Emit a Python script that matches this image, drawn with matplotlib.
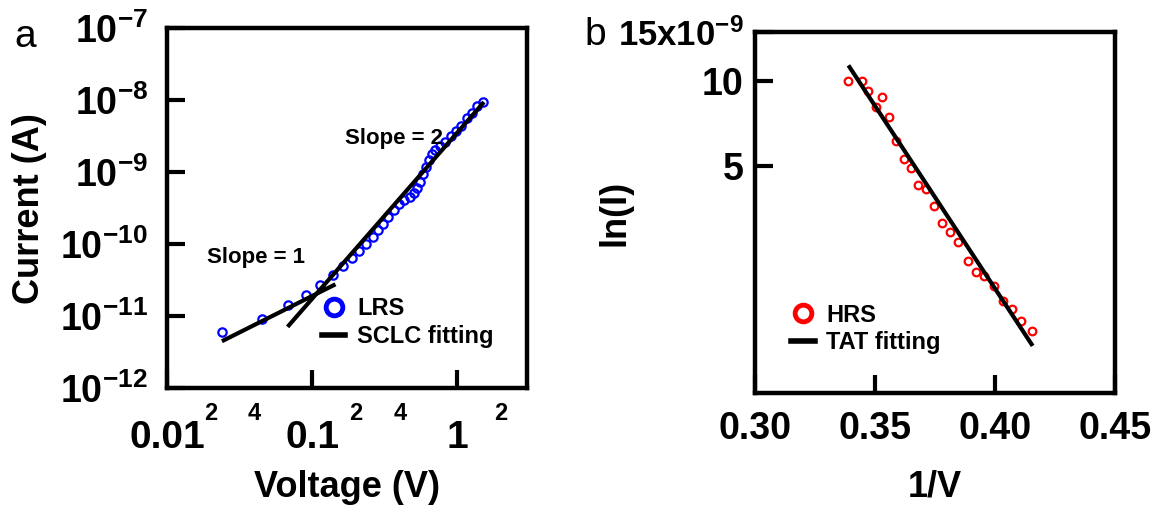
import matplotlib
matplotlib.use('Agg')
import matplotlib.pyplot as plt
from matplotlib.ticker import NullLocator
from matplotlib.lines import Line2D

plt.rcParams['font.family'] = ['Liberation Sans', 'DejaVu Sans']
plt.rcParams['font.weight'] = 'bold'
plt.rcParams['axes.labelweight'] = 'bold'
plt.rcParams['mathtext.fontset'] = 'custom'
plt.rcParams['mathtext.rm'] = 'Liberation Sans:bold'
plt.rcParams['mathtext.bf'] = 'Liberation Sans:bold'
plt.rcParams['mathtext.default'] = 'rm'

# Panel a: LRS I-V (log-log)
lrs_v = [0.024, 0.045, 0.068, 0.090, 0.113, 0.138, 0.163, 0.188, 0.211, 0.234,
         0.26, 0.282, 0.308, 0.334, 0.364, 0.396, 0.43, 0.469, 0.50, 0.53,
         0.556, 0.582, 0.605, 0.633, 0.667, 0.705, 0.759, 0.826, 0.90, 0.98,
         1.065, 1.16, 1.26, 1.37, 1.49]
lrs_i = [6.1e-12, 9.1e-12, 1.42e-11, 1.96e-11, 2.7e-11, 3.7e-11, 5.0e-11, 6.5e-11, 8.1e-11, 1.02e-10,
         1.26e-10, 1.56e-10, 1.94e-10, 2.4e-10, 2.97e-10, 3.6e-10, 4.1e-10, 4.5e-10, 5.2e-10, 6.0e-10,
         7.3e-10, 9.4e-10, 1.17e-9, 1.47e-9, 1.78e-9, 2.07e-9, 2.3e-9, 2.6e-9, 3.16e-9, 3.7e-9,
         4.45e-9, 5.6e-9, 6.7e-9, 8.3e-9, 9.5e-9]
ohm_fit_v = [0.0245, 0.14]
ohm_fit_i = [4.64e-12, 2.7e-11]
sclc_fit_v = [0.0689, 1.49]
sclc_fit_i = [7.5e-12, 9.0e-9]

a_xmajor = [0.01, 0.1, 1]
a_xmajor_labels = ['0.01', '0.1', '1']
a_xminor = [0.02, 0.04, 0.2, 0.4, 2]
a_xminor_labels = ['2', '4', '2', '4', '2']
a_yticks = [1e-12, 1e-11, 1e-10, 1e-9, 1e-8, 1e-7]
a_ylabels = [r'$10^{-12}$', r'$10^{-11}$', r'$10^{-10}$', r'$10^{-9}$', r'$10^{-8}$', r'$10^{-7}$']

# Panel b: HRS TAT plot
hrs_x = [0.3387, 0.3444, 0.3472, 0.3529, 0.3503, 0.3560, 0.3588, 0.3619, 0.3649, 0.3680,
         0.3711, 0.3747, 0.3781, 0.3812, 0.3846, 0.3886, 0.3920, 0.3954, 0.3997, 0.4033,
         0.4070, 0.4110, 0.4152]
hrs_y = [10.0e-9, 10.0e-9, 9.25e-9, 8.81e-9, 8.12e-9, 7.45e-9, 6.12e-9, 5.31e-9, 4.93e-9, 4.28e-9,
         4.14e-9, 3.61e-9, 3.15e-9, 2.92e-9, 2.69e-9, 2.30e-9, 2.11e-9, 2.03e-9, 1.87e-9, 1.66e-9,
         1.56e-9, 1.41e-9, 1.30e-9]
tat_fit_x = [0.3394, 0.4152]
tat_fit_y = [11.23e-9, 1.166e-9]

b_xticks = [0.30, 0.35, 0.40, 0.45]
b_xlabels = ['0.30', '0.35', '0.40', '0.45']
b_yticks = [5e-9, 10e-9, 15e-9]
b_ylabels = ['5', '10', r'$15x10^{-9}$']

fig = plt.figure(figsize=(11.66, 5.14), dpi=100)
ax1 = fig.add_axes([0.1435, 0.2446, 0.3082, 0.7003])
ax2 = fig.add_axes([0.6475, 0.2348, 0.3088, 0.7035])

# ---- panel a ----
ax1.set_xscale('log')
ax1.set_yscale('log')
ax1.plot(lrs_v, lrs_i, 'o', mfc='none', mec='blue', ms=6, mew=1.6)
ax1.plot(ohm_fit_v, ohm_fit_i, '-', color='black', lw=3)
ax1.plot(sclc_fit_v, sclc_fit_i, '-', color='black', lw=3)
ax1.set_xlim(0.01, 3)
ax1.set_ylim(1e-12, 1e-7)

ax1.set_xticks(a_xmajor, a_xmajor_labels)
ax1.set_xticks(a_xminor, a_xminor_labels, minor=True)
ax1.set_yticks(a_yticks, a_ylabels)
ax1.yaxis.set_minor_locator(NullLocator())
ax1.tick_params(axis='x', which='major', direction='in', length=13, width=3, pad=23, labelsize=28)
ax1.tick_params(axis='x', which='minor', direction='in', length=0, pad=10, labelsize=17)
ax1.tick_params(axis='y', which='major', direction='in', length=13, width=3, pad=14, labelsize=27)

ax1.text(0.247, 0.363, 'Slope = 1', transform=ax1.transAxes, ha='center', va='center', fontsize=16)
ax1.text(0.63, 0.694, 'Slope = 2', transform=ax1.transAxes, ha='center', va='center', fontsize=16)

handles_a = [Line2D([], [], marker='o', ls='none', mfc='none', mec='blue', ms=12, mew=3.5),
             Line2D([], [], color='black', lw=4)]
ax1.legend(handles_a, ['LRS', 'SCLC fitting'], loc='center left', bbox_to_anchor=(0.43, 0.183),
           frameon=False, fontsize=17, handlelength=1.0, handletextpad=0.5, labelspacing=0.2,
           borderpad=0, borderaxespad=0)

ax1.set_xlabel('Voltage (V)', fontsize=26)
ax1.xaxis.set_label_coords(0.5, -0.277)
ax1.xaxis.label.set_va('center')
ax1.set_ylabel('Current (A)', fontsize=26)
ax1.yaxis.set_label_coords(-0.383, 0.5)
ax1.yaxis.label.set_va('center')

# ---- panel b ----
ax2.set_yscale('log')
ax2.plot(hrs_x, hrs_y, 'o', mfc='none', mec='red', ms=5.5, mew=1.6)
ax2.plot(tat_fit_x, tat_fit_y, '-', color='black', lw=3)
ax2.set_xlim(0.30, 0.45)
ax2.set_ylim(0.78e-9, 15e-9)

ax2.set_xticks(b_xticks, b_xlabels)
ax2.set_yticks(b_yticks, b_ylabels)
ax2.yaxis.set_minor_locator(NullLocator())
ax2.tick_params(axis='x', direction='in', length=13, width=3, pad=13, labelsize=27)
ax2.tick_params(axis='y', direction='in', length=13, width=3, pad=8, labelsize=27)
ax2.get_yticklabels()[2].set_fontsize(25)

handles_b = [Line2D([], [], marker='o', ls='none', mfc='none', mec='red', ms=12, mew=3.5),
             Line2D([], [], color='black', lw=4)]
ax2.legend(handles_b, ['HRS', 'TAT fitting'], loc='center left', bbox_to_anchor=(0.10, 0.178),
           frameon=False, fontsize=17, handlelength=1.0, handletextpad=0.5, labelspacing=0.2,
           borderpad=0, borderaxespad=0)

ax2.set_xlabel('1/V', fontsize=26)
ax2.xaxis.set_label_coords(0.5, -0.259)
ax2.xaxis.label.set_va('center')
ax2.set_ylabel('ln(I)', fontsize=26)
ax2.yaxis.set_label_coords(-0.389, 0.5)
ax2.yaxis.label.set_va('center')

for ax in (ax1, ax2):
    for sp in ax.spines.values():
        sp.set_linewidth(3.2)

fig.text(25.5 / 1166, 1 - 37 / 514, 'a', fontsize=28, fontweight='normal', ha='center', va='center')
fig.text(595 / 1166, 1 - 35 / 514, 'b', fontsize=28, fontweight='normal', ha='center', va='center')

fig.savefig('out.png', dpi=100)
